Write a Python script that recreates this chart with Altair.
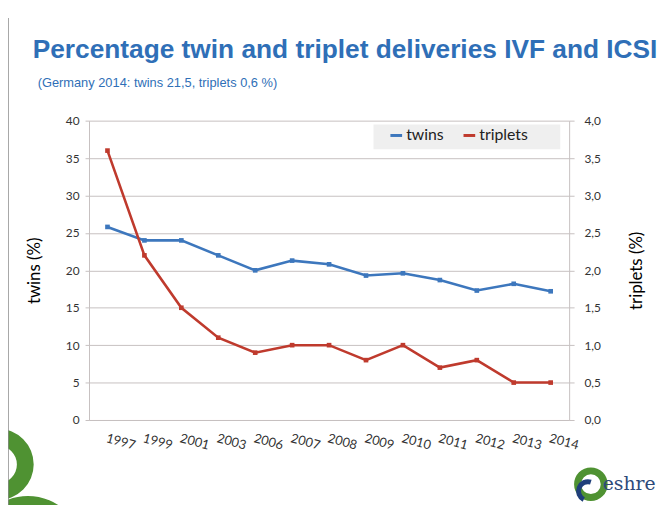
import altair as alt
import pandas as pd

years = ["1997", "1999", "2001", "2003", "2006", "2007", "2008",
         "2009", "2010", "2011", "2012", "2013", "2014"]
twins = [25.8, 24.0, 24.0, 22.0, 20.0, 21.3, 20.8, 19.3, 19.6, 18.7, 17.3, 18.2, 17.2]
triplets = [3.6, 2.2, 1.5, 1.1, 0.9, 1.0, 1.0, 0.8, 1.0, 0.7, 0.8, 0.5, 0.5]
series_names = ["twins", "triplets"]
left_ticks = [0, 5, 10, 15, 20, 25, 30, 35, 40]
right_ticks = [0, 0.5, 1.0, 1.5, 2.0, 2.5, 3.0, 3.5, 4.0]
title_text = "Percentage twin and triplet deliveries IVF and ICSI"
subtitle_text = "(Germany 2014: twins 21,5, triplets 0,6 %)"

df = pd.DataFrame({
    "year": years * 2,
    "series": ["twins"] * len(years) + ["triplets"] * len(years),
    "value": twins + triplets,
})

BLUE = "#3d77bd"
RED = "#bf3a2d"
TITLE_BLUE = "#2f6fb7"
GRID = "#c6c0c0"
GREEN = "#4f9232"
FONT = "Lato"

color = alt.Color(
    "series:N",
    scale=alt.Scale(domain=series_names, range=[BLUE, RED]),
    legend=alt.Legend(
        title=None, orient="none", legendX=303, legendY=7, direction="horizontal",
        padding=0, labelFont=FONT, labelFontSize=16,
        labelColor="#222222", symbolType="stroke", symbolStrokeWidth=3,
        symbolSize=140, columnPadding=14, labelOffset=2,
    ),
)

x = alt.X(
    "year:O", sort=years, title=None,
    axis=alt.Axis(labelAngle=15, labelAlign="left", labelBaseline="top",
                  labelPadding=12, ticks=False, domainColor=GRID, labelFont=FONT,
                  labelFontSize=13, labelColor="#333333", grid=False),
)

base = alt.Chart(df)

twins_layer = base.transform_filter(alt.datum.series == "twins").mark_line(
    strokeWidth=2.6, point=alt.OverlayMarkDef(shape="square", size=22, filled=True)
).encode(
    x=x,
    y=alt.Y("value:Q", title="twins (%)",
            scale=alt.Scale(domain=[0, 40], nice=False),
            axis=alt.Axis(orient="left", values=left_ticks, grid=True, gridColor=GRID,
                          domainColor=GRID, tickColor=GRID, tickSize=4,
                          labelFont=FONT, labelFontSize=12, labelColor="#333333",
                          labelPadding=6, titleFont=FONT, titleFontSize=17,
                          titleFontWeight="normal", titleColor="#000000",
                          titlePadding=22)),
    color=color,
)

triplets_layer = base.transform_filter(alt.datum.series == "triplets").mark_line(
    strokeWidth=2.6, point=alt.OverlayMarkDef(shape="square", size=22, filled=True)
).encode(
    x=x,
    y=alt.Y("value:Q", title="triplets (%)",
            scale=alt.Scale(domain=[0, 4], nice=False),
            axis=alt.Axis(orient="right", values=right_ticks, grid=False,
                          domainColor=GRID, tickColor=GRID, tickSize=5,
                          labelExpr="replace(format(datum.value, '.1f'), '.', ',')",
                          labelFont=FONT, labelFontSize=12, labelColor="#333333",
                          labelPadding=10, titleFont=FONT, titleFontSize=17,
                          titleFontWeight="normal", titleColor="#000000",
                          titleAngle=270, titlePadding=46)),
    color=color,
)

# slide title, legend box and decorations (left border, green rings, logo)
deco = alt.Chart(pd.DataFrame({"d": [0]}))
title_mark = deco.mark_text(text=title_text, font="Liberation Sans", fontSize=26.6,
                            fontWeight="bold", color=TITLE_BLUE, align="left",
                            baseline="alphabetic").encode(
    x=alt.value(-57), y=alt.value(-63))
subtitle_mark = deco.mark_text(text=subtitle_text, font="Liberation Sans",
                               fontSize=13, color=TITLE_BLUE, align="left",
                               baseline="alphabetic").encode(
    x=alt.value(-52), y=alt.value(-34))
legend_box = deco.mark_rect(color="#efefef").encode(
    x=alt.value(288), x2=alt.value(477), y=alt.value(4), y2=alt.value(29))
border = deco.mark_rule(color="#8a8a8a", strokeWidth=1.5).encode(
    x=alt.value(-82), y=alt.value(-104), y2=alt.value(400))
ring1 = deco.mark_arc(color=GREEN, clip=False).encode(
    x=alt.value(-92), y=alt.value(348), theta=alt.value(0), theta2=alt.value(6.2832),
    radius=alt.value(36), radius2=alt.value(19))
ring2 = deco.mark_arc(color=GREEN, clip=False).encode(
    x=alt.value(-62), y=alt.value(437), theta=alt.value(0), theta2=alt.value(6.2832),
    radius=alt.value(57), radius2=alt.value(43))
logo_ring = deco.mark_arc(color=GREEN).encode(
    x=alt.value(508), y=alt.value(368), theta=alt.value(0), theta2=alt.value(6.2832),
    radius=alt.value(17), radius2=alt.value(10))
logo_swirl = deco.mark_arc(color="#1f3f7a").encode(
    x=alt.value(505), y=alt.value(375), theta=alt.value(3.6), theta2=alt.value(6.6),
    radius=alt.value(12), radius2=alt.value(7))
logo_text = deco.mark_text(text="eshre", font="DejaVu Serif", fontSize=19,
                           color="#2d4a7a", align="left", baseline="alphabetic").encode(
    x=alt.value(520), y=alt.value(374))

chart = alt.layer(
    ring2, ring1, border, logo_ring, logo_swirl, logo_text,
    title_mark, subtitle_mark, legend_box,
    twins_layer, triplets_layer
).resolve_scale(
    y="independent"
).properties(
    width=486,
    height=303,
    padding={"left": 82, "top": 111, "right": 94, "bottom": 83},
    autosize=alt.AutoSizeParams(type="none"),
).configure_view(stroke=None)

chart.save("out.html", embed_options={"renderer": "svg", "actions": False})
